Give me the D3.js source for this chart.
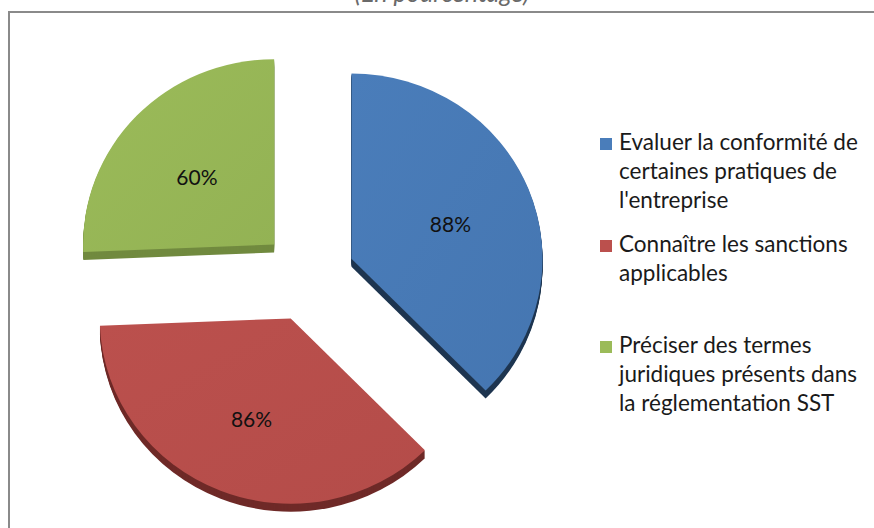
<!DOCTYPE html>
<html>
<head>
<meta charset="utf-8">
<script src="https://cdn.jsdelivr.net/npm/d3@7"></script>
<style>
  html, body { margin: 0; padding: 0; background: #fff; }
  svg { display: block; }
</style>
</head>
<body>
<svg id="chart" width="874" height="528"></svg>
<script>
// ---- Data ----
const categories = [
  "Evaluer la conformité de certaines pratiques de l'entreprise",
  "Connaître les sanctions applicables",
  "Préciser des termes juridiques présents dans la réglementation SST"
];
const values = [88, 86, 60];
const valueLabels = ["88%", "86%", "60%"];
const legendLines = [
  ["Evaluer la conformité de", "certaines pratiques de", "l'entreprise"],
  ["Connaître les sanctions", "applicables"],
  ["Préciser des termes", "juridiques présents dans", "la réglementation SST"]
];
const titleText = "(En pourcentage)";

// ---- Styles ----
const faceColors = ["#4a7dba", "#bb504d", "#9bbb59"];
const faceColorsDark = ["#4576b1", "#b44c49", "#93b254"];
const sideColors = ["#1f3651", "#6f2a28", "#718a3f"];
const font = "Lato, 'Open Sans', sans-serif";

const svg = d3.select("#chart");

// Frame
svg.append("path")
  .attr("d", "M9,540 L9,12 L890,12")
  .attr("fill", "none").attr("stroke", "#8a8a8a").attr("stroke-width", 2);

// Title (partly cut off at top, as in the reference)
const title = svg.append("text")
  .attr("x", 442).attr("y", 2)
  .attr("text-anchor", "middle")
  .attr("font-family", font).attr("font-style", "italic")
  .attr("font-size", 20).attr("fill", "#6a6a6a")
  .text(titleText);
{
  const w = title.node().getComputedTextLength();
  title.attr("font-size", 20 * 175 / w);
}

// Pie
const cx = 308, cy = 276, radius = 191, explode = 47, depth = 8, squash = 0.97;
const pie = d3.pie().sort(null).value(d => d)
  .startAngle(0).endAngle(2 * Math.PI);
const arcs = pie(values);
const arcGen = d3.arc().innerRadius(0).outerRadius(radius);
const mid = d => (d.startAngle + d.endAngle) / 2;
const apexX = d => cx + explode * Math.sin(mid(d));
const apexY = d => cy - explode * Math.cos(mid(d)) * squash;

const defs = svg.append("defs");
faceColors.forEach((c, i) => {
  const g = defs.append("linearGradient").attr("id", "g" + i)
    .attr("x1", "0").attr("y1", "0").attr("x2", "1").attr("y2", "1");
  g.append("stop").attr("offset", "0").attr("stop-color", c);
  g.append("stop").attr("offset", "1").attr("stop-color", faceColorsDark[i]);
});

const slices = svg.append("g").selectAll("g.slice")
  .data(arcs).enter().append("g")
  .attr("class", "slice")
  .attr("transform", d => `translate(${apexX(d)},${apexY(d)})`);

slices.each(function(d, i) {
  const g = d3.select(this);
  for (let k = depth; k >= 1; k--) {
    g.append("path")
      .attr("d", arcGen(d))
      .attr("transform", `translate(0,${k}) scale(1,${squash})`)
      .attr("fill", sideColors[i]);
  }
  g.append("path")
    .attr("d", arcGen(d))
    .attr("transform", `scale(1,${squash})`)
    .attr("fill", `url(#g${i})`);
});

// value labels
const labelR = radius * 0.56;
svg.append("g").selectAll("text")
  .data(arcs).enter().append("text")
  .attr("x", d => apexX(d) + labelR * Math.sin(mid(d)))
  .attr("y", d => apexY(d) - labelR * Math.cos(mid(d)) * squash + 5)
  .attr("dy", "0.35em")
  .attr("text-anchor", "middle")
  .attr("font-family", font).attr("font-size", 21)
  .attr("fill", "#111")
  .text((d, i) => valueLabels[i]);

// Legend
const legendStartY = [150, 252, 353];
const lineH = 29;
const legend = svg.append("g");
let legendFont = 20;
legendLines.forEach((lines, i) => {
  const y0 = legendStartY[i];
  legend.append("rect")
    .attr("x", 600).attr("y", y0 - 12)
    .attr("width", 12).attr("height", 12)
    .attr("fill", faceColors[i]);
  const t = legend.append("text")
    .attr("font-family", font).attr("font-size", legendFont)
    .attr("fill", "#1a1a1a");
  lines.forEach((ln, j) => {
    t.append("tspan").attr("x", 619).attr("y", y0 + j * lineH).text(ln);
  });
});
{
  const first = legend.select("tspan").node();
  const w = first.getComputedTextLength();
  legend.selectAll("text").attr("font-size", legendFont * 239 / w);
}
</script>
</body>
</html>
